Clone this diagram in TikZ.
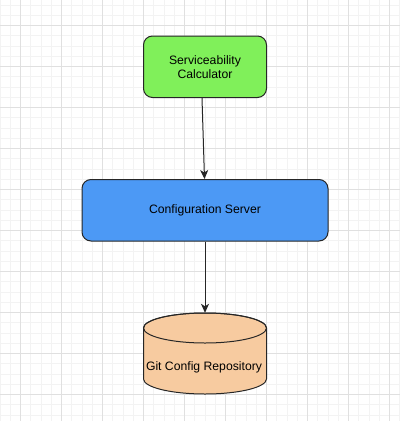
\documentclass[tikz,border=0pt]{standalone}
\usepackage{fontspec}
\setmainfont{Liberation Sans}
\usetikzlibrary{arrows.meta}
\definecolor{gridminor}{RGB}{243,243,243}
\definecolor{gridmajor}{RGB}{224,224,224}
\definecolor{calcgreen}{RGB}{128,240,90}
\definecolor{serverblue}{RGB}{76,153,245}
\definecolor{repopeach}{RGB}{247,203,160}
\tikzset{
  minorline/.style={draw=gridminor, line width=1pt},
  majorline/.style={draw=gridmajor, line width=1pt},
  roundbox/.style={draw=black!85, line width=1pt, rounded corners=9pt, align=center,
    font=\fontsize{12.2}{13.8}\selectfont, inner sep=0pt},
  connector/.style={draw=black!85, line width=1pt, -{Stealth[length=9pt,width=8pt,inset=2.5pt]}},
  textlabel/.style={font=\fontsize{12.2}{13.8}\selectfont, inner sep=0pt},
}
\begin{document}
\begin{tikzpicture}[x=1pt,y=-1pt]
\useasboundingbox (0,0) rectangle (400,421);
\fill[white] (0,0) rectangle (400,421);
% grid
\foreach \i in {0,...,39} {
  \draw[minorline] ({\i*10.25},0) -- ({\i*10.25},421);
}
\foreach \j in {0,...,41} {
  \draw[minorline] (0,{5.2+\j*10.25}) -- (400,{5.2+\j*10.25});
}
\foreach \i in {0,...,9} {
  \draw[majorline] ({20.5+\i*41},0) -- ({20.5+\i*41},421);
}
\foreach \j in {0,...,9} {
  \draw[majorline] (0,{25.7+\j*41}) -- (400,{25.7+\j*41});
}
% nodes
\node[roundbox, fill=calcgreen, minimum width=123pt, minimum height=61.5pt]
  (calc) at (205,66.75) {Serviceability\\Calculator};
\node[roundbox, fill=serverblue, minimum width=246pt, minimum height=61.5pt]
  (server) at (205,210.25) {Configuration Server};
% cylinder
\path[fill=repopeach, draw=black!85, line width=1pt]
  (143.5,328) -- (143.5,379) arc[start angle=180, end angle=360, x radius=61.5, y radius=-15]
  -- (266.5,328) arc[start angle=0, end angle=180, x radius=61.5, y radius=-15] -- cycle;
\draw[black!85, line width=1pt] (205,328) ellipse[x radius=61.5, y radius=15];
\node[inner sep=0pt, minimum width=123pt, minimum height=81pt] (repo) at (205,353.5) {};
\node[textlabel] (repolabel) at (204,367.5) {Git Config Repository};
% connectors
\draw[connector] ([xshift=-3pt]calc.south) -- ([xshift=-0.5pt]server.north);
\draw[connector] (server.south) -- (repo.north);
\end{tikzpicture}
\end{document}
